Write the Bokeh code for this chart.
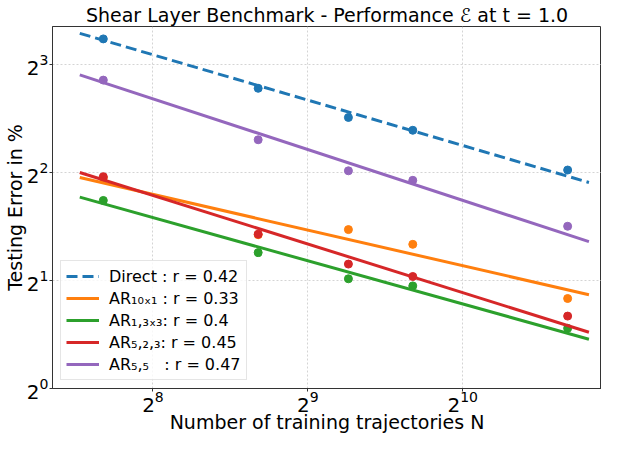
import numpy as np
from bokeh.plotting import figure
from bokeh.models import Range1d, LogTicker, LogTickFormatter, Legend, LegendItem
from bokeh.embed import file_html
from bokeh.resources import INLINE

# ---- data ----
N = [205, 410, 614, 819, 1638]
direct = [9.42, 6.86, 5.69, 5.24, 4.06]
ar_10x1 = [3.86, 2.68, 2.77, 2.52, 1.78]
ar_1_3x3 = [3.34, 2.39, 2.02, 1.93, 1.47]
ar_5_2_3 = [3.89, 2.69, 2.22, 2.05, 1.59]
ar_5_5 = [7.23, 4.93, 4.04, 3.80, 2.83]
rates = [0.42, 0.33, 0.4, 0.45, 0.47]
labels = [
    "Direct : r = 0.42",
    "AR\u2081\u2080\u2093\u2081 : r = 0.33",
    "AR\u2081,\u2083\u2093\u2083: r = 0.4",
    "AR\u2085,\u2082,\u2083: r = 0.45",
    "AR\u2085,\u2085   : r = 0.47",
]
series = [direct, ar_10x1, ar_1_3x3, ar_5_2_3, ar_5_5]
colors = ["#1f77b4", "#ff7f0e", "#2ca02c", "#d62728", "#9467bd"]
dashes = ["11 5", "solid", "solid", "solid", "solid"]
x_title = "Number of training trajectories N"
y_title = "Testing Error in %"

FONT = "DejaVu Sans"

p = figure(
    width=601, height=435,
    x_axis_type="log", y_axis_type="log",
    x_range=Range1d(163.3, 1906), y_range=Range1d(0.999, 10.2),
    output_backend="svg", toolbar_location=None,
    min_border_left=49, min_border_right=0, min_border_top=21, min_border_bottom=0,
    background_fill_color="white", border_fill_color="white",
)

p.title.text = "Shear Layer Benchmark - Performance \u2130 at t = 1.0"
p.title.text_font = FONT
p.title.text_font_size = "19px"
p.title.text_font_style = "normal"
p.title.align = "center"
p.title.text_color = "black"
p.title.standoff = 2

xt = LogTicker(base=2, mantissas=[1])
yt = LogTicker(base=2, mantissas=[1])
p.xaxis.ticker = xt
p.yaxis.ticker = yt
p.xaxis.formatter = LogTickFormatter(ticker=xt)
p.yaxis.formatter = LogTickFormatter(ticker=yt)

for ax in (p.xaxis, p.yaxis):
    ax.major_label_text_font = FONT
    ax.major_label_text_font_size = "20px"
    ax.major_label_text_color = "black"
    ax.axis_label_text_font = FONT
    ax.axis_label_text_font_size = "19px"
    ax.axis_label_text_font_style = "normal"
    ax.axis_label_text_color = "black"
    ax.minor_tick_line_color = None
    ax.major_tick_in = 0
    ax.major_tick_out = 3
    ax.major_tick_line_color = "#333333"
    ax.axis_line_color = "#333333"

p.xaxis.major_label_standoff = -2
p.xaxis.axis_label_standoff = -4
p.yaxis.major_label_standoff = 0
p.yaxis.axis_label_standoff = -2
p.xaxis.axis_label = x_title
p.yaxis.axis_label = y_title

p.grid.grid_line_color = "#d4d4d4"
p.grid.grid_line_dash = "2 2"
p.grid.grid_line_width = 1
p.outline_line_color = "#333333"
p.outline_line_width = 1

logN = np.log2(np.array(N, dtype=float))
x_fit = np.array([0.9 * min(N), 1.1 * max(N)])

items = []
for vals, r, lab, col, dash in zip(series, rates, labels, colors, dashes):
    logy = np.log2(np.array(vals, dtype=float))
    intercept = logy.mean() + r * logN.mean()
    y_fit = 2.0 ** (intercept - r * np.log2(x_fit))
    p.scatter(N, vals, size=8, color=col, line_color=col)
    ln = p.line(x_fit, y_fit, line_color=col, line_width=3, line_dash=dash)
    items.append(LegendItem(label=lab, renderers=[ln]))

legend = Legend(items=items, location="bottom_left")
legend.label_text_font = FONT
legend.label_text_font_size = "16px"
legend.label_text_color = "black"
legend.glyph_width = 33
legend.glyph_height = 20
legend.label_height = 20
legend.spacing = 2
legend.label_standoff = 10
legend.padding = 5
legend.margin = 8
legend.border_line_color = "#cccccc"
legend.border_line_width = 1
legend.background_fill_alpha = 0.8
p.add_layout(legend)

open("out.html", "w").write(file_html(p, INLINE))
